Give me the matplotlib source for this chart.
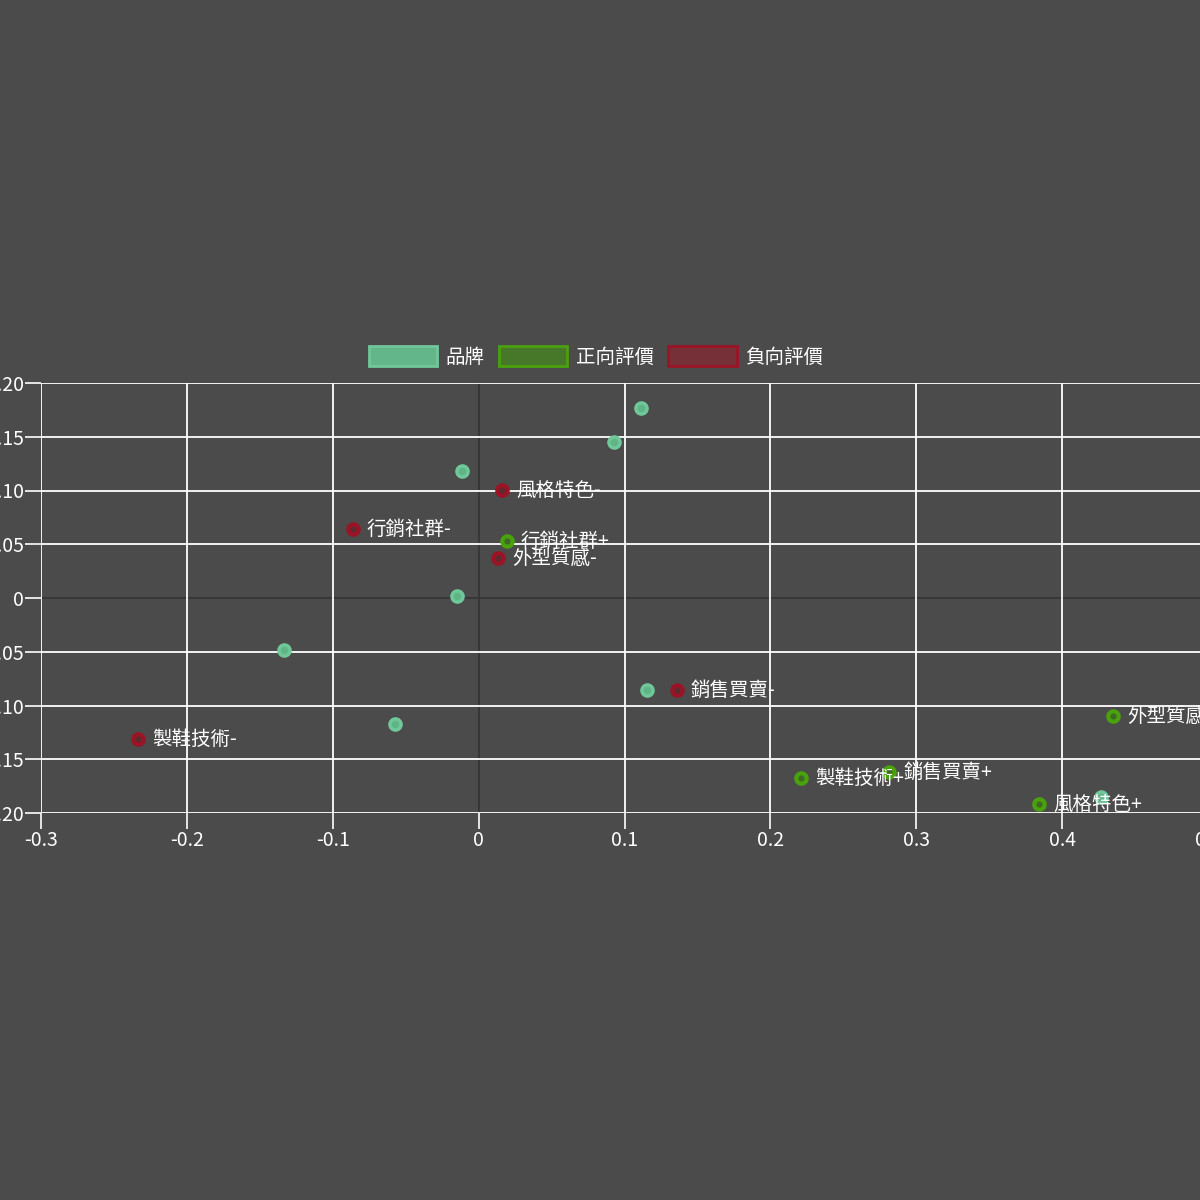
import matplotlib
matplotlib.use('Agg')
import matplotlib.pyplot as plt
from matplotlib.patches import Patch
from matplotlib.ticker import FuncFormatter

plt.rcParams['font.family'] = ['Noto Sans CJK TC', 'DejaVu Sans']

# brand points (unlabelled)
brand_x = [0.1114, 0.0928, -0.0114, -0.0148, -0.1334, -0.0573, 0.1155, 0.4267]
brand_y = [0.1767, 0.1451, 0.1181, 0.0019, -0.0484, -0.1172, -0.0856, -0.1851]

# positive evaluations
pos_labels = ['行銷社群+', '外型質感+', '銷售買賣+', '製鞋技術+', '風格特色+']
pos_x = [0.0195, 0.4350, 0.2814, 0.2210, 0.3842]
pos_y = [0.0530, -0.1098, -0.1619, -0.1674, -0.1916]

# negative evaluations
neg_labels = ['風格特色-', '行銷社群-', '外型質感-', '銷售買賣-', '製鞋技術-']
neg_x = [0.0161, -0.0861, 0.0133, 0.1360, -0.2335]
neg_y = [0.1005, 0.0642, 0.0372, -0.0856, -0.1312]

legend_names = ['品牌', '正向評價', '負向評價']

x_ticks = [-0.3, -0.2, -0.1, 0, 0.1, 0.2, 0.3, 0.4, 0.5]
y_ticks = [-0.2, -0.15, -0.1, -0.05, 0, 0.05, 0.1, 0.15, 0.2]

bg = '#4b4b4b'
zero_col = '#353535'
fig = plt.figure(figsize=(12, 12), dpi=100, facecolor=bg)
ax = fig.add_axes([41 / 1200, 1 - 813 / 1200, 1167 / 1200, 430 / 1200])
ax.set_facecolor(bg)

ax.set_xlim(-0.3, 0.5)
ax.set_ylim(-0.2, 0.2)
ax.set_xticks(x_ticks)
ax.set_yticks(y_ticks)

def fmt_x(v, pos):
    return '0' if abs(v) < 1e-9 else '%.1f' % v

def fmt_y(v, pos):
    return '0' if abs(v) < 1e-9 else '%.2f' % v

ax.xaxis.set_major_formatter(FuncFormatter(fmt_x))
ax.yaxis.set_major_formatter(FuncFormatter(fmt_y))
ax.tick_params(colors='white', labelsize=14, length=11.5, width=1.2, pad=1)
for s in ax.spines.values():
    s.set_visible(False)
ax.grid(True, color='white', lw=1.3)
ax.set_axisbelow(True)

# zero lines are dark and sit under the white grid
for ticks, axis in ((x_ticks, ax.xaxis), (y_ticks, ax.yaxis)):
    t = axis.get_major_ticks()[ticks.index(0)]
    t.gridline.set_visible(False)
    t.tick1line.set_color(zero_col)
ax.axvline(0, color=zero_col, lw=1.3, zorder=0.2)
ax.axhline(0, color=zero_col, lw=1.3, zorder=0.2)

ax.scatter(brand_x, brand_y, s=8 ** 2, facecolor='#5fb585', edgecolor='#70c89a',
           linewidths=2.5, zorder=3, clip_on=False)
ax.scatter(pos_x, pos_y, s=7.5 ** 2, facecolor='#3d6a22', edgecolor='#4aa10e',
           linewidths=3, zorder=3, clip_on=False)
ax.scatter(neg_x, neg_y, s=7.5 ** 2, facecolor='#5e2a30', edgecolor='#9a1426',
           linewidths=3, zorder=3, clip_on=False)

for lab, x, y in zip(pos_labels + neg_labels, pos_x + neg_x, pos_y + neg_y):
    ax.annotate(lab, (x, y), xytext=(10, 0), textcoords='offset points',
                ha='left', va='center', color='white', fontsize=14, zorder=5)

handles = [
    Patch(facecolor='#62b689', edgecolor='#70c89a', lw=2),
    Patch(facecolor='#47782a', edgecolor='#4aa10e', lw=2),
    Patch(facecolor='#763038', edgecolor='#9a1426', lw=2),
]
fig.legend(handles, legend_names, loc='center', bbox_to_anchor=(596 / 1200, 1 - 357 / 1200),
           ncol=3, frameon=False, fontsize=14, labelcolor='white',
           handlelength=3.5, handleheight=1.2, handletextpad=0.45, columnspacing=0.75)

fig.savefig('out.png', dpi=100, facecolor=bg)
